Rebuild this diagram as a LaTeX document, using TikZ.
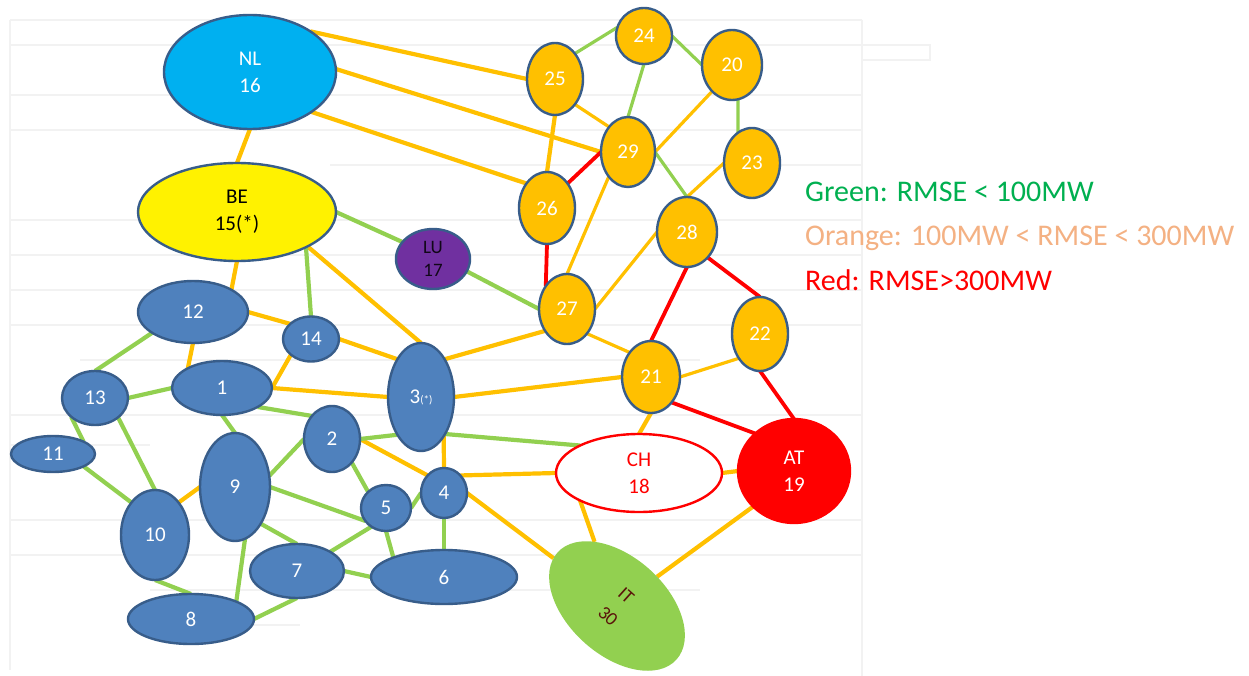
\documentclass[tikz,border=0pt]{standalone}
\usepackage{fontspec}
\setmainfont{Carlito}
\usetikzlibrary{shapes.geometric}

\definecolor{nlblue}{RGB}{0,176,240}
\definecolor{rimblue}{RGB}{56,93,138}
\definecolor{nodeblue}{RGB}{79,129,189}
\definecolor{amber}{RGB}{255,192,0}
\definecolor{lime}{RGB}{146,208,80}
\definecolor{luviolet}{RGB}{112,48,160}
\definecolor{darkred}{RGB}{90,20,10}
\definecolor{lgreen}{RGB}{0,176,80}
\definecolor{lorange}{RGB}{244,177,131}
\definecolor{faint}{RGB}{242,242,242}

\pgfdeclarelayer{grid}
\pgfdeclarelayer{links}
\pgfsetlayers{grid,links,main}

\tikzset{
  country/.style={ellipse, draw=rimblue, line width=2.4pt, inner sep=0pt, outer sep=0pt,
    align=center, font=\fontsize{21}{27}\selectfont},
  bluenode/.style={country, fill=nodeblue, text=white},
  ambernode/.style={country, fill=amber, text=white},
  oe/.style={draw=amber, line width=4.2pt},
  ot/.style={draw=amber, line width=3.2pt},
  ge/.style={draw=lime, line width=4.2pt},
  gt/.style={draw=lime, line width=3.2pt},
  re/.style={draw=red, line width=3.8pt},
  legend/.style={anchor=base west, font=\fontsize{30}{34}\selectfont, inner sep=0pt},
  gridline/.style={draw=faint, line width=1.4pt}
}

\begin{document}
\begin{tikzpicture}[x=1pt,y=-1pt]
\useasboundingbox (0,0) rectangle (1249,676);

% faint tree outline behind the graph
\begin{pgfonlayer}{grid}
\fill[white] (0,0) rectangle (1249,676);
\draw[gridline] (10,20) -- (862,20);
\draw[gridline] (10,20) -- (10,670);
\draw[gridline] (862,20) -- (862,676);
\draw[gridline] (10,45) -- (930,45) -- (930,60) -- (862,60);
\draw[gridline] (10,95) -- (862,95);
\draw[gridline] (10,130) -- (862,130);
\draw[gridline] (330,165) -- (862,165);
\draw[gridline] (10,220) -- (862,220);
\draw[gridline] (10,255) -- (862,255);
\draw[gridline] (10,290) -- (862,290);
\draw[gridline] (10,325) -- (862,325);
\draw[gridline] (80,360) -- (700,360);
\draw[gridline] (10,415) -- (862,415);
\draw[gridline] (10,445) -- (150,445);
\draw[gridline] (10,520) -- (862,520);
\draw[gridline] (10,555) -- (862,555);
\draw[gridline] (150,590) -- (700,590);
\draw[gridline] (200,625) -- (300,625);
\end{pgfonlayer}

% countries
\node[country, fill=nlblue, text=white, minimum width=172pt, minimum height=114pt] (NL) at (250,72) {NL\\16};
\node[country, fill=yellow, text=black, minimum width=198pt, minimum height=98pt] (BE) at (237,212) {BE\\15(*)};
\node[country, fill=luviolet, text=black!85!luviolet, minimum width=74pt, minimum height=60pt, font=\fontsize{19}{23}\selectfont] (LU) at (433,259) {LU\\17};
\node[country, draw=red, fill=white, text=red, minimum width=166pt, minimum height=78pt] (CH) at (639,473) {CH\\18};
\node[country, draw=red, fill=red, text=white, minimum width=112pt, minimum height=104pt] (AT) at (794,471) {AT\\19};
\node[country, draw=none, fill=lime, text=darkred, minimum width=160pt, minimum height=98pt, rotate=-42, font=\fontsize{19}{27}\selectfont] (IT) at (617,606) {IT\\30};

% blue cluster
\node[bluenode, minimum width=110pt, minimum height=62pt] (n12) at (193,312) {12};
\node[bluenode, minimum width=56pt, minimum height=45pt] (n14) at (311,339) {14};
\node[bluenode, minimum width=100pt, minimum height=54pt] (n1) at (222,388) {1};
\node[bluenode, minimum width=66pt, minimum height=54pt] (n13) at (95,398) {13};
\node[bluenode, minimum width=84pt, minimum height=36pt] (n11) at (53,454) {11};
\node[bluenode, minimum width=68pt, minimum height=90pt] (n10) at (155,535) {10};
\node[bluenode, minimum width=70pt, minimum height=108pt] (n9) at (235,487) {9};
\node[bluenode, minimum width=56pt, minimum height=66pt] (n2) at (332,439) {2};
\node[bluenode, minimum width=66pt, minimum height=108pt] (n3) at (421,397) {3{\fontsize{11}{11}\selectfont(*)}};
\node[bluenode, minimum width=46pt, minimum height=50pt] (n4) at (444,493) {4};
\node[bluenode, minimum width=50pt, minimum height=46pt] (n5) at (386,508) {5};
\node[bluenode, minimum width=94pt, minimum height=54pt] (n7) at (297,571) {7};
\node[bluenode, minimum width=146pt, minimum height=54pt] (n6) at (444,577) {6};
\node[bluenode, minimum width=126pt, minimum height=50pt] (n8) at (191,619) {8};

% amber cluster
\node[ambernode, minimum width=56pt, minimum height=72pt] (n25) at (555,79) {25};
\node[ambernode, minimum width=56pt, minimum height=56pt] (n24) at (644,36) {24};
\node[ambernode, minimum width=60pt, minimum height=70pt] (n20) at (732,65) {20};
\node[ambernode, minimum width=54pt, minimum height=70pt] (n29) at (628,152) {29};
\node[ambernode, minimum width=56pt, minimum height=70pt] (n23) at (752,163) {23};
\node[ambernode, minimum width=56pt, minimum height=72pt] (n26) at (547,208) {26};
\node[ambernode, minimum width=60pt, minimum height=70pt] (n28) at (687,232) {28};
\node[ambernode, minimum width=56pt, minimum height=70pt] (n27) at (567,309) {27};
\node[ambernode, minimum width=56pt, minimum height=74pt] (n22) at (760,334) {22};
\node[ambernode, minimum width=58pt, minimum height=72pt] (n21) at (651,377) {21};

% legend
\node[legend, text=lgreen] (lg) at (805,202) {Green: RMSE < 100MW};
\node[legend, text=lorange] (lo) at (805,245) {Orange: 100MW < RMSE < 300MW};
\node[legend, text=red] (lr) at (805,290) {Red: RMSE>300MW};

\begin{pgfonlayer}{links}
% orange links
\draw[oe] (NL.34) -- (n25.180);
\draw[oe] (NL.2) -- (n29.180);
\draw[oe] (NL.-33) -- (n26.130);
\draw[oe] (NL.south) -- (BE.north);
\draw[oe] (BE.south) -- (n12.30);
\draw[oe] (BE.-26) -- (n3.north);
\draw[oe] (n12.east) -- (n14.144);
\draw[oe] (n12.south) -- (n1.150);
\draw[oe] (n14.218) -- (n1.east);
\draw[oe] (n14.east) -- (n3.122);
\draw[oe] (n1.east) -- (n3.west);
\draw[oe] (n10.54) -- (n9.west);
\draw[oe] (n3.58) -- (n27.225);
\draw[oe] (n3.east) -- (n21.west);
\draw[oe] (n3.-60) -- (n4.north);
\draw[oe] (n2.east) -- (n4.133);
\draw[oe] (n4.47) -- (CH.west);
\draw[oe] (n4.east) -- (IT);
\draw[oe] (CH.205) -- (IT);
\draw[oe] (CH.east) -- (AT.west);
\draw[oe] (AT.221) -- (IT);
\draw[oe] (n21.south) -- (CH.north);
\draw[oe] (n25.south) -- (n26.north);
\draw[ot] (n25.-52) -- (n29.127);
\draw[ot] (n29.232) -- (n27.north);
\draw[ot] (n20.233) -- (n29.east);
\draw[ot] (n23.west) -- (n28.north);
\draw[ot] (n28.west) -- (n27.east);
\draw[ot] (n27.-51) -- (n21.131);
\draw[ot] (n21.east) -- (n22.229);

% green links
\draw[ge] (BE.east) -- (LU.151);
\draw[ge] (BE.-27) -- (n14.north);
\draw[ge] (LU.-20) -- (n27.west);
\draw[gt] (n25.52) -- (n24.162);
\draw[gt] (n24.south) -- (n29.north);
\draw[gt] (n24.east) -- (n20.west);
\draw[gt] (n20.-80) -- (n23.115);
\draw[gt] (n29.east) -- (n28.north);
\draw[ge] (n12.207) -- (n13.north);
\draw[ge] (n13.east) -- (n1.west);
\draw[ge] (n13.218) -- (n11.22);
\draw[ge] (n13.-40) -- (n10.north);
\draw[ge] (n11.-22) -- (n10.126);
\draw[ge] (n1.south) -- (n9.north);
\draw[ge] (n1.-28) -- (n2.131);
\draw[ge] (n2.west) -- (n9.18);
\draw[ge] (n2.east) -- (n3.238);
\draw[ge] (n2.-50) -- (n5.138);
\draw[ge] (n9.east) -- (n5.212);
\draw[ge] (n9.-55) -- (n7.north);
\draw[ge] (n9.-79) -- (n8.21);
\draw[ge] (n10.south) -- (n8.north);
\draw[ge] (n8.east) -- (n7.south);
\draw[ge] (n7.east) -- (n6.west);
\draw[ge] (n7.30) -- (n5.232);
\draw[ge] (n5.south) -- (n6.159);
\draw[ge] (n5.east) -- (n4.west);
\draw[ge] (n4.south) -- (n6.north);
\draw[ge] (n3.-57) -- (CH.155);

% red links
\draw[re] (n26.50) -- (n29.180);
\draw[re] (n26.south) -- (n27.133);
\draw[re] (n28.south) -- (n21.north);
\draw[re] (n28.-51) -- (n22.north);
\draw[re] (n21.-51) -- (AT.136);
\draw[re] (n22.south) -- (AT.north);
\end{pgfonlayer}
\end{tikzpicture}
\end{document}
